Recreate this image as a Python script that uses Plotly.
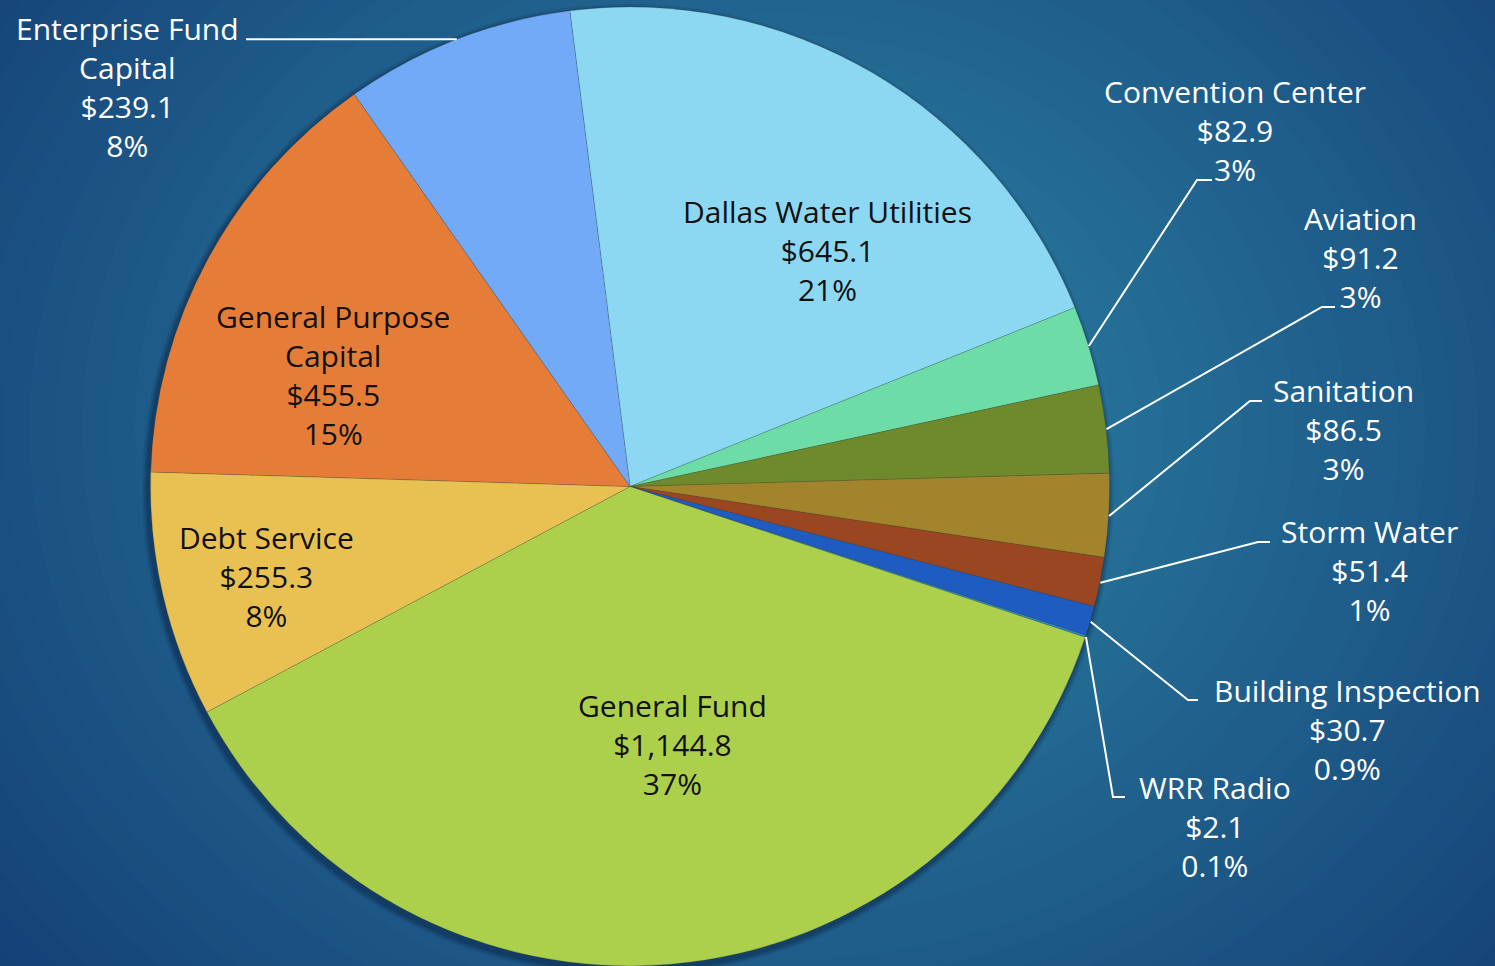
import math
import plotly.graph_objects as go

# ---------------- data ----------------
labels = ["Dallas Water Utilities", "Convention Center", "Aviation", "Sanitation",
          "Storm Water", "Building Inspection", "WRR Radio", "General Fund",
          "Debt Service", "General Purpose Capital", "Enterprise Fund Capital"]
values = [645.1, 82.9, 91.2, 86.5, 51.4, 30.7, 2.1, 1144.8, 255.3, 455.5, 239.1]
value_labels = ["$645.1", "$82.9", "$91.2", "$86.5", "$51.4", "$30.7", "$2.1",
                "$1,144.8", "$255.3", "$455.5", "$239.1"]
pct_labels = ["21%", "3%", "3%", "3%", "1%", "0.9%", "0.1%", "37%", "8%", "15%", "8%"]
name_lines = ["Dallas Water Utilities", "Convention Center", "Aviation", "Sanitation",
              "Storm Water", "Building Inspection", "WRR Radio", "General Fund",
              "Debt Service", "General Purpose<br>Capital", "Enterprise Fund<br>Capital"]
colors = ["#8cd8f3", "#6edca6", "#6e8a2c", "#a2842c", "#9a4620", "#1f5cc2", "#2a8fc8",
          "#add04c", "#e9c153", "#e57d38", "#72aaf8"]

# ---------------- layout helpers ----------------
W, H = 1495, 966
CX, CY, R = 630, 487, 480
ROT = -7.2


def px(x):
    return x / W


def py(y):
    return 1 - y / H


fig = go.Figure()
fig.add_trace(go.Pie(
    labels=labels, values=values, sort=False, direction="clockwise", rotation=ROT,
    marker=dict(colors=colors, line=dict(color="rgba(60,60,40,0.35)", width=0.6)),
    textinfo="none", hoverinfo="label+value+percent", showlegend=False,
    domain=dict(x=[px(CX - R), px(CX + R)], y=[0, py(CY - R)]),
))

shapes = []
# background radial gradient
c_out = (16, 52, 110)
c_in = (46, 134, 166)
GX, GY = 780, 430
N = 45
for i in range(N):
    t = i / (N - 1)
    rad = 1100 * (1 - t) + 40
    col = tuple(int(c_out[k] + (c_in[k] - c_out[k]) * t) for k in range(3))
    shapes.append(dict(type="circle", xref="paper", yref="paper", layer="below",
                       x0=px(GX - rad * 1.05), x1=px(GX + rad * 1.05),
                       y0=py(GY + rad * 0.9), y1=py(GY - rad * 0.9),
                       fillcolor="rgb(%d,%d,%d)" % col, line=dict(width=0)))
# soft shadow under pie
for k, a in [(6, 0.10), (4, 0.15), (2, 0.2)]:
    shapes.append(dict(type="circle", xref="paper", yref="paper", layer="below",
                       x0=px(CX - R - k - 2), x1=px(CX + R + k - 2),
                       y0=py(CY + R + k + 3), y1=py(CY - R - k + 3),
                       fillcolor="rgba(5,20,45,%.2f)" % a, line=dict(width=0)))

# leader lines from slice mid-angles
total = sum(values)
cum = 0
mid_angle = {}
for lab, v in zip(labels, values):
    a0 = ROT + cum / total * 360
    cum += v
    a1 = ROT + cum / total * 360
    mid_angle[lab] = (a0 + a1) / 2

leaders = {
    "Enterprise Fund Capital": [(246, None)],
    "Convention Center": [(1197, 180), (1212, 180)],
    "Aviation": [(1322, 307), (1335, 307)],
    "Sanitation": [(1250, 401), (1262, 401)],
    "Storm Water": [(1258, 542), (1270, 542)],
    "Building Inspection": [(1188, 700), (1198, 700)],
    "WRR Radio": [(1113, 797), (1125, 797)],
}
for lab, pts in leaders.items():
    ang = math.radians(mid_angle[lab])
    ex = CX + R * math.sin(ang)
    ey = CY - R * math.cos(ang)
    path = "M %f %f" % (px(ex), py(ey))
    for (x, y) in pts:
        if y is None:
            y = ey
        path += " L %f %f" % (px(x), py(y))
    shapes.append(dict(type="path", xref="paper", yref="paper", path=path,
                       line=dict(color="white", width=2)))

# label positions (block centers, pixels) and colours
label_pos = {
    "Dallas Water Utilities": (827, 251, "#111111"),
    "Convention Center": (1235, 130, "white"),
    "Aviation": (1360, 257, "white"),
    "Sanitation": (1343, 429, "white"),
    "Storm Water": (1369, 570, "white"),
    "Building Inspection": (1347, 729, "white"),
    "WRR Radio": (1215, 826, "white"),
    "General Fund": (672, 744, "#111111"),
    "Debt Service": (266, 576, "#111111"),
    "General Purpose Capital": (333, 375, "#111111"),
    "Enterprise Fund Capital": (127, 87, "white"),
}
annotations = []
for lab, nm, vl, pl in zip(labels, name_lines, value_labels, pct_labels):
    x, y, c = label_pos[lab]
    annotations.append(dict(x=px(x), y=py(y), xref="paper", yref="paper",
                            text="%s<br>%s<br>%s" % (nm, vl, pl), showarrow=False,
                            xanchor="center", yanchor="middle", align="center",
                            font=dict(family="Open Sans", size=30, color=c)))

fig.update_layout(width=W, height=H, margin=dict(l=0, r=0, t=0, b=0),
                  paper_bgcolor="rgb(20,60,115)", plot_bgcolor="rgba(0,0,0,0)",
                  shapes=shapes, annotations=annotations)
fig.write_html("out.html", config={"displayModeBar": False},
               post_script="document.body.style.margin='0';"
                           "document.body.style.background='rgb(20,60,115)';")
